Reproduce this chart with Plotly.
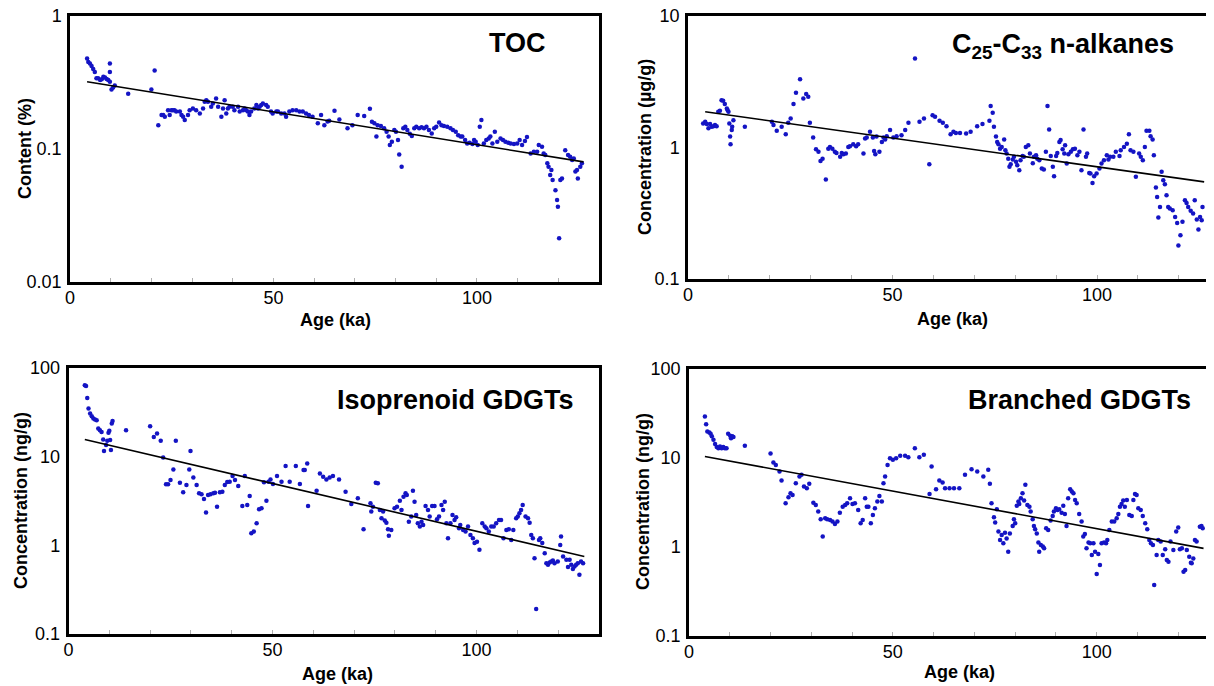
import plotly.graph_objects as go

# ---------------- DATA ----------------
# Panel 1: TOC content (%)
toc_age = [4.2, 4.5, 4.9, 5.3, 5.7, 6.1, 6.5, 6.9, 7.4, 7.8, 8.2, 8.6, 9.0, 9.4, 9.8, 9.8, 9.8, 10.2, 10.6, 11.0,
           14.3, 20.0, 20.8, 21.7, 22.5, 22.9, 23.3, 24.1, 24.5, 24.9, 25.3, 25.7, 26.1, 27.0, 27.4, 27.8, 28.2,
           29.0, 29.4, 30.2, 31.0, 31.9, 32.7, 33.1, 33.5, 33.9, 34.7, 35.1, 35.9, 36.4, 37.2, 37.6, 38.0, 38.4,
           38.8, 39.2, 40.0, 40.4, 41.3, 41.7, 42.5, 42.9, 43.3, 43.7, 44.1, 44.5, 45.3, 45.8, 46.2, 46.6, 47.0,
           47.4, 48.2, 48.6, 49.4, 49.8, 50.7, 51.1, 51.9, 52.7, 53.1, 53.9, 54.7, 55.6, 56.4, 57.2, 58.0, 58.7,
           59.6, 60.9, 61.7, 62.5, 63.3, 63.7, 65.0, 66.2, 68.2, 69.4, 70.7, 72.3, 73.7, 74.2, 74.8, 75.3, 75.6,
           76.4, 77.2, 77.8, 78.3, 78.6, 79.1, 79.7, 80.1, 80.6, 80.9, 81.5, 81.9, 82.4, 82.9, 83.5, 84.0, 84.6,
           85.1, 85.8, 86.4, 87.0, 87.6, 88.2, 88.9, 89.5, 90.0, 90.7, 91.3, 91.9, 92.7, 93.5, 94.1, 94.8, 95.4,
           96.0, 96.4, 97.1, 97.6, 98.2, 98.9, 99.3, 99.7, 100.2, 100.7, 101.1, 101.7, 102.3, 102.9, 103.3, 103.8,
           104.4, 105.0, 105.8, 106.4, 107.0, 107.7, 108.3, 109.1, 109.9, 110.5, 111.1, 111.8, 112.3, 113.2,
           114.0, 114.8, 115.2, 116.0, 116.4, 116.8, 117.3, 117.6, 118.0, 118.3, 118.6, 119.3, 119.7, 119.9,
           120.2, 120.5, 120.9, 121.7, 122.4, 122.9, 123.4, 123.8, 124.2, 124.6, 124.8, 125.4, 125.8]
toc_val = [0.48, 0.45, 0.44, 0.42, 0.40, 0.38, 0.34, 0.34, 0.33, 0.335, 0.35, 0.345, 0.336, 0.33, 0.44, 0.38, 0.32,
           0.28, 0.29, 0.30, 0.26, 0.28, 0.39, 0.151, 0.18, 0.18, 0.175, 0.196, 0.18, 0.196, 0.196, 0.196, 0.191,
           0.191, 0.18, 0.175, 0.165, 0.18, 0.196, 0.202, 0.196, 0.185, 0.202, 0.227, 0.233, 0.227, 0.208, 0.22,
           0.24, 0.208, 0.175, 0.202, 0.233, 0.185, 0.202, 0.208, 0.208, 0.196, 0.208, 0.191, 0.196, 0.202, 0.196,
           0.191, 0.18, 0.191, 0.202, 0.214, 0.202, 0.208, 0.214, 0.22, 0.214, 0.208, 0.191, 0.185, 0.191, 0.191,
           0.185, 0.185, 0.175, 0.191, 0.196, 0.196, 0.191, 0.191, 0.185, 0.18,
           0.175, 0.156, 0.18, 0.151, 0.161, 0.163, 0.194, 0.167, 0.143, 0.151, 0.18, 0.177, 0.201, 0.160, 0.156,
           0.124, 0.151, 0.149, 0.143, 0.135, 0.124, 0.107, 0.1135, 0.139, 0.135, 0.117, 0.091, 0.0736, 0.143,
           0.147, 0.139, 0.130, 0.125, 0.143, 0.147, 0.143, 0.146, 0.143, 0.147, 0.139, 0.131, 0.143, 0.147,
           0.158, 0.151, 0.149, 0.147, 0.143, 0.139, 0.135, 0.127, 0.124, 0.124, 0.117, 0.110, 0.1116, 0.109,
           0.117, 0.1135, 0.107, 0.147, 0.165, 0.110, 0.117, 0.120, 0.124, 0.110, 0.135, 0.1135, 0.120, 0.117,
           0.1135, 0.1116, 0.110, 0.109, 0.110, 0.117, 0.107, 0.115, 0.123, 0.0927, 0.0955, 0.0955, 0.107, 0.104,
           0.0927, 0.090, 0.078, 0.0736, 0.0638, 0.0695, 0.0585, 0.049, 0.0414, 0.0368, 0.0213, 0.0585, 0.060,
           0.098, 0.090, 0.0875, 0.0827, 0.085, 0.0676, 0.0695, 0.060, 0.0736, 0.078]
toc_fit_age = [4.2, 126.2]
toc_fit_val = [0.32, 0.080]

# Panel 2: C25-C33 n-alkanes (ug/g)
alk_age = [3.7, 4.2, 4.6, 5.0, 5.4, 5.8, 6.2, 6.6, 7.0, 7.4, 7.8, 8.2, 8.6, 9.0, 9.5, 9.7, 9.9, 10.1, 10.3, 10.4,
           10.7, 10.8, 11.1, 13.9, 20.5, 20.9, 21.7, 22.9, 23.9, 24.5, 25.1, 25.8, 26.4, 27.4, 28.2, 28.9, 29.4,
           29.8, 30.6, 31.3, 31.9, 32.4, 32.9, 33.7, 34.3, 34.7, 35.3, 35.9, 36.3, 37.2, 37.6, 38.0, 38.6, 39.2,
           39.6, 40.4, 41.1, 41.6, 42.9, 43.3, 43.7, 44.5, 45.2, 45.5, 45.8, 46.1, 46.8, 47.4, 47.8, 48.2, 48.6,
           49.4, 50.2, 51.0, 52.2, 53.1, 53.9,
           55.5, 56.6, 57.7, 59.0, 59.8, 60.4, 61.5, 62.3, 63.2, 64.2, 64.9, 65.5, 66.5, 68.0, 69.1, 70.7, 72.0,
           73.7, 74.0, 74.5, 74.8, 75.3, 75.6, 75.9, 76.3, 76.7, 77.3, 77.6, 77.9, 78.3, 78.6, 78.9, 79.4, 79.7,
           80.2, 80.5, 81.0, 81.3, 81.8, 82.1, 82.6, 83.2, 83.6, 84.3, 84.6, 85.1, 85.4, 85.9, 86.5, 87.0, 87.5,
           87.9, 88.3, 88.7, 89.2, 89.5, 90.0, 90.3, 90.8, 91.1, 91.6, 92.0, 92.2, 92.6, 93.0, 93.6, 94.1, 94.6,
           95.2, 95.7, 96.2, 96.7, 97.3, 97.6, 98.1, 98.4, 98.9, 99.3, 99.9, 100.6, 101.1, 101.7, 102.4, 102.8,
           103.2, 104.0, 104.6, 105.5, 105.8, 106.6, 107.3, 107.8, 108.2, 108.9, 109.5, 110.3, 110.7, 111.2,
           111.7, 112.1, 112.8, 113.1, 113.6, 113.9, 114.4, 114.7, 115.0, 115.4, 115.8, 116.2, 116.6, 117.0,
           117.4, 117.8, 118.5, 119.1, 119.6, 119.9, 120.4, 120.9, 121.5, 121.9, 122.3, 122.9, 123.5, 123.9,
           124.4, 124.8, 125.2, 125.6, 125.8]
alk_val = [1.52, 1.57, 1.51, 1.40, 1.51, 1.44, 1.45, 1.48, 1.45, 1.87, 1.90, 2.29, 2.27, 2.14, 1.98, 1.92, 1.87,
           1.52, 1.21, 1.06, 1.36, 1.44, 1.61, 1.44, 1.57, 1.48, 1.34, 1.44, 1.26, 1.54, 1.66, 2.14, 2.61, 3.30,
           2.36, 2.55, 2.43, 1.54, 1.19, 0.97, 0.93, 0.79, 0.82, 0.57, 0.98, 1.01, 0.98, 0.93, 0.91, 0.85, 0.91,
           0.89, 0.90, 1.01, 1.02, 1.06, 1.02, 1.06, 0.90, 1.17, 1.19, 1.32, 1.19, 0.94, 0.89, 1.21, 0.93, 1.10,
           1.19, 1.15, 1.22, 1.36, 1.19, 1.22, 1.24, 1.36, 1.54,
           4.76, 1.57, 1.66, 0.746, 1.76, 1.71, 1.60, 1.54, 1.45, 1.26, 1.32, 1.29, 1.29, 1.28, 1.32, 1.45, 1.51,
           1.60, 2.07, 1.84, 1.44, 1.21, 1.10, 1.06, 0.98, 1.01, 1.15, 0.955, 0.90, 0.82, 0.713, 0.746, 0.81,
           0.85, 0.78, 0.733, 0.672, 0.80, 0.86, 0.85, 1.01, 1.04, 0.90, 0.76, 0.85, 0.875, 0.82, 0.80, 0.692,
           0.68, 0.93, 2.07, 1.37, 0.86, 0.713, 0.605, 0.86, 0.91, 1.10, 1.14, 0.97, 0.90, 1.04, 0.755, 0.89, 0.93,
           0.97, 0.98, 0.875, 0.93, 0.672, 1.37, 0.85, 0.90, 0.641, 0.634, 0.538, 0.605, 0.634, 0.692, 0.755,
           0.80, 0.875, 0.81, 0.85, 0.85, 0.93, 0.86, 0.955, 1.01, 1.07, 1.26, 0.955, 0.93, 0.598, 0.90, 0.85,
           0.80, 1.01, 1.34, 1.34, 1.22, 1.15, 0.875, 0.496, 0.421, 0.293, 0.353, 0.653, 0.564, 0.526, 0.433,
           0.353, 0.343, 0.333, 0.296, 0.267, 0.18, 0.215, 0.272, 0.397, 0.379, 0.353, 0.330, 0.315, 0.397,
           0.283, 0.238, 0.296, 0.28, 0.353]
alk_fit_age = [4.2, 126.2]
alk_fit_val = [1.87, 0.548]

# Panel 3: Isoprenoid GDGTs (ng/g)
iso_age = [4.0, 4.3, 4.6, 4.9, 5.3, 5.7, 6.1, 6.5, 6.9, 7.3, 7.7, 8.1, 8.5, 8.7, 9.2, 9.5, 9.8, 10.0, 10.2, 10.4,
           10.6, 10.8, 14.1, 20.0, 20.9, 21.7, 22.6, 23.2, 23.9, 24.4, 25.0, 25.7, 26.3, 27.3, 28.1, 28.9, 29.6,
           29.9, 30.6, 31.4, 32.0, 32.6, 33.2, 33.7, 34.2, 34.8, 35.5, 35.9, 36.4, 37.1, 37.7, 38.3, 38.9, 39.5,
           40.2, 40.8, 41.6, 42.6, 43.2, 43.8, 44.4, 44.8, 45.4, 46.1, 46.7, 47.3, 47.9, 48.5, 49.0, 49.5, 50.1,
           51.1, 52.2, 53.2, 54.2, 55.7, 56.7, 57.6, 58.7,
           57.9, 58.5, 60.8, 61.6, 62.4, 63.2, 64.0, 64.8, 66.3, 67.9, 69.3, 70.9, 72.3, 74.0, 74.2, 74.6, 75.3,
           75.8, 76.3, 76.7, 77.1, 77.5, 77.9, 78.3, 78.5, 79.1, 79.9, 80.5, 81.2, 81.6, 82.1, 82.6, 82.9, 83.4,
           84.0, 84.4, 84.8, 85.2, 85.6, 86.1, 86.5, 86.9, 87.5, 88.1, 88.5, 89.1, 89.7, 90.3, 90.8, 91.4, 91.8,
           92.2, 92.6, 93.0, 93.6, 94.1, 94.6, 95.0, 95.7, 96.0, 96.7, 97.3, 97.9, 98.5, 99.1, 99.5, 100.1, 100.7,
           101.4, 102.0, 102.4, 103.0, 103.6, 104.2, 104.8, 105.5, 106.0, 106.6, 107.3, 107.9, 108.5, 109.0,
           109.7, 110.1, 110.5, 110.9, 111.3, 112.0, 112.6, 113.0, 113.4, 113.8, 114.2, 114.6, 115.3, 115.6,
           116.1, 116.7, 117.1, 117.5, 117.9, 118.3, 118.7, 119.1, 119.9, 120.5, 120.7, 121.2, 122.0, 122.4,
           122.8, 123.2, 123.6, 124.0, 124.4, 124.8, 125.2, 125.6, 126.1]
iso_val = [63.8, 62.8, 46.0, 34.9, 30.6, 28.6, 26.9, 26.2, 25.8, 20.8, 19.9, 19.0, 15.6, 11.6, 13.5, 15.1, 18.6,
           19.6, 15.4, 11.9, 23.7, 25.3, 19.9, 22.1, 16.7, 18.3, 15.1, 9.8, 4.87, 4.87, 5.45, 7.18, 15.1, 5.08,
           3.96, 4.79, 7.18, 11.6, 5.84, 4.79, 3.86, 3.76, 3.33, 2.34, 3.70, 3.76, 3.86, 3.93, 2.73, 3.96, 4.03,
           4.79, 5.18, 5.22, 6.04, 5.45, 4.67, 2.78, 6.04, 2.85, 3.60, 1.37, 1.43, 1.77, 2.55, 2.62, 5.13, 3.19,
           5.22, 5.54, 4.91, 6.04, 5.22, 7.83, 5.22, 7.83, 4.91, 7.06, 2.78,
           7.06, 8.39, 4.13, 6.47, 5.94, 5.54, 5.84, 6.04, 5.54, 4.03, 2.93, 3.39, 1.52, 2.98, 2.40, 2.73, 5.08,
           5.00, 2.51, 2.02, 2.40, 1.90, 1.80, 1.52, 1.28, 1.49, 2.62, 2.73, 3.19, 2.51, 3.54, 3.86, 3.70, 1.85,
           2.11, 4.13, 3.11, 2.20, 1.77, 1.63, 1.85, 1.70, 2.78, 2.51, 2.11, 2.78, 2.78, 1.97, 2.11, 2.85, 2.51,
           3.11, 1.77, 1.20, 1.77, 2.20, 1.93, 2.07, 1.56, 1.70, 1.49, 1.43, 1.63, 1.31, 1.20, 1.06, 1.10, 0.889,
           1.77, 1.63, 1.56, 1.43, 1.63, 1.63, 1.77, 1.93, 1.93, 1.20, 1.49, 1.52, 1.15, 1.49, 2.02, 2.11, 2.30,
           2.51, 2.85, 2.11, 2.02, 1.80, 1.31, 1.20, 0.716, 0.191, 1.15, 1.20, 1.06, 0.816, 0.630, 0.603, 0.640,
           0.658, 0.675, 0.630, 0.658, 1.01, 1.26, 0.748, 0.687, 0.568, 0.687, 0.603, 0.540, 0.578, 0.603, 0.630,
           0.466, 0.658, 0.630]
iso_fit_age = [4.0, 126.4]
iso_fit_val = [15.6, 0.748]

# Panel 4: Branched GDGTs (ng/g)
br_age = [3.9, 4.2, 4.5, 5.0, 5.3, 5.6, 6.0, 6.4, 6.8, 7.2, 7.6, 8.0, 8.4, 8.8, 9.2, 9.6, 10.1, 10.3, 10.6, 10.9,
          13.7, 20.0, 20.7, 21.3, 22.2, 22.7, 23.7, 24.4, 24.9, 25.4, 26.2, 27.1, 27.6, 28.2, 28.9, 29.5, 30.5,
          31.1, 31.7, 32.3, 32.8, 33.4, 33.9, 34.6, 35.2, 35.8, 36.4, 37.0, 37.7, 38.3, 38.8, 39.5, 40.1, 40.7,
          41.5, 42.1, 42.6, 43.2, 43.6, 44.0, 44.6, 45.1, 45.6, 46.2, 46.7, 47.3, 47.7, 48.1, 48.7, 49.3, 50.0,
          50.8, 51.8, 53.0, 53.8,
          55.4, 56.5, 57.6, 59.0, 59.5, 60.6, 61.4, 62.2, 62.8, 63.9, 65.0, 66.3, 67.7, 69.3, 70.7, 72.2, 73.4,
          73.8, 74.2, 74.8, 75.1, 75.5, 75.9, 76.3, 76.7, 77.1, 77.5, 77.9, 78.3, 78.7, 79.4, 79.7, 80.0, 80.4,
          80.8, 81.0, 81.4, 81.8, 82.2, 82.5, 83.0, 83.5, 83.8, 84.3, 84.6, 84.9, 85.3, 85.7, 85.9, 86.3, 86.8,
          87.1, 87.6, 88.1, 88.7, 89.2, 89.5, 90.0, 90.4, 90.8, 91.4, 91.8, 92.2, 92.6, 93.0, 93.5, 93.9, 94.3,
          94.7, 95.1, 95.7, 96.3, 96.7, 97.1, 97.5, 98.0, 98.4, 98.8, 99.2, 99.6, 100.0, 100.4, 100.8, 101.2,
          101.8, 102.3, 102.6, 103.1, 103.7, 104.3, 104.9, 105.3, 105.7, 106.1, 106.5, 106.9, 107.4, 108.0,
          108.6, 109.0, 109.4, 109.8, 110.2, 110.8, 111.3, 111.9, 112.4, 112.9, 113.3, 113.8, 114.1, 114.7,
          115.1, 115.7, 116.2, 116.8, 117.2, 117.6, 118.1, 118.8, 119.5, 120.0, 120.4, 120.9, 121.3, 121.7,
          122.1, 122.7, 123.1, 123.3, 123.7, 124.1, 124.5, 125.3, 125.7, 126.0]
br_val = [29.3, 24.0, 19.9, 19.4, 18.7, 17.5, 16.0, 14.4, 13.3, 12.9, 13.5, 12.9, 13.3, 12.9, 12.9, 18.7, 17.8,
          16.7, 17.5, 17.2, 13.7, 11.2, 8.89, 8.37, 7.05, 5.58, 3.10, 3.62, 4.02, 3.85, 5.21, 6.19, 6.47, 4.78,
          4.58, 5.12, 3.15, 2.97, 2.50, 2.05, 1.31, 2.10, 2.05, 2.01, 1.93, 1.81, 1.93, 2.43, 2.84, 2.97, 3.10,
          3.53, 3.05, 3.10, 2.61, 1.85, 2.01, 3.53, 2.84, 2.84, 1.85, 2.29, 2.72, 3.24, 3.75, 3.24, 5.21, 6.19,
          8.37, 9.95, 9.53, 9.95, 10.6, 10.6, 10.2,
          12.9, 10.2, 10.9, 3.95, 8.02, 4.46, 5.58, 5.30, 4.58, 4.58, 4.58, 4.58, 6.47, 7.48, 7.05, 6.19, 7.36,
          5.12, 3.10, 2.16, 1.88, 2.65, 1.49, 1.20, 1.36, 1.10, 1.45, 1.25, 0.886, 1.42, 1.72, 2.05, 1.85, 2.90,
          3.24, 3.05, 3.53, 4.02, 3.32, 4.99, 2.97, 2.84, 2.50, 2.05, 1.72, 1.58, 1.42, 1.12, 0.886, 1.05, 1.01,
          0.967, 1.62, 1.55, 1.98, 2.23, 2.50, 2.72, 2.61, 2.65, 2.43, 2.90, 2.35, 1.72, 3.53, 4.46, 4.20, 4.02,
          3.38, 3.10, 2.35, 1.93, 1.31, 1.40, 0.967, 1.12, 1.10, 0.813, 1.10, 0.886, 0.496, 0.834, 0.627, 1.10,
          1.12, 1.10, 1.20, 1.55, 1.93, 1.93, 2.10, 2.35, 2.84, 3.05, 3.32, 2.84, 3.38, 2.29, 2.23, 3.38, 3.95,
          3.85, 2.72, 2.61, 2.23, 1.85, 1.58, 1.20, 1.10, 1.05, 0.373, 0.813, 1.20, 1.15, 0.813, 0.942, 0.714,
          0.684, 1.15, 0.925, 1.49, 1.66, 0.942, 0.967, 0.527, 0.551, 0.925, 0.778, 0.667, 0.655, 0.745, 1.20,
          1.15, 1.69, 1.72, 1.62]
br_fit_age = [3.9, 126.2]
br_fit_val = [10.4, 0.966]

# Axis labels and ticks
x_tickvals = [0, 50, 100]
x_ticktext = ["0", "50", "100"]
y1_ticks = [0.01, 0.1, 1]
y1_text = ["0.01", "0.1", "1"]
y2_ticks = [0.1, 1, 10]
y2_text = ["0.1", "1", "10"]
y34_ticks = [0.1, 1, 10, 100]
y34_text = ["0.1", "1", "10", "100"]

titles = ["TOC", "C<sub>25</sub>-C<sub>33</sub> n-alkanes", "Isoprenoid GDGTs", "Branched GDGTs"]
ylabels = ["Content (%)", "Concentration (µg/g)", "Concentration (ng/g)", "Concentration (ng/g)"]
xlabel = "Age (ka)"

# ---------------- FIGURE ----------------
# The page shows the figure with the browser's 8 px body margin, so the figure is
# 8 px smaller than the window and every screen position is shifted by -8 px.
OFF = 8
W, H = 1214 - OFF, 686 - OFF
FONT = "Liberation Sans, Arial, Helvetica, sans-serif"
DOT = "#1414c4"

fig = go.Figure()

panels = [
    (toc_age, toc_val, toc_fit_age, toc_fit_val, "x", "y"),
    (alk_age, alk_val, alk_fit_age, alk_fit_val, "x2", "y2"),
    (iso_age, iso_val, iso_fit_age, iso_fit_val, "x3", "y3"),
    (br_age, br_val, br_fit_age, br_fit_val, "x4", "y4"),
]
for ax, av, fx, fv, xa, ya in panels:
    fig.add_trace(go.Scatter(x=ax, y=av, mode="markers", xaxis=xa, yaxis=ya,
                             marker=dict(color=DOT, size=4.5, line=dict(width=0)), showlegend=False))
    fig.add_trace(go.Scatter(x=fx, y=fv, mode="lines", xaxis=xa, yaxis=ya,
                             line=dict(color="black", width=1.6), showlegend=False))

# screen pixel boxes: (left, right, top, bottom)
boxes = [(70, 599, 16, 282), (688, 1214, 16, 279), (68.5, 599, 368, 634), (689, 1214, 369, 636)]
xranges = [[0, 130], [0, (1214 - 688) / 4.09], [0, 130], [0, (1214 - 689) / 4.077]]
yranges = [[-2, 0], [-1, 1], [-1, 2], [-1, 2]]
yticks = [(y1_ticks, y1_text), (y2_ticks, y2_text), (y34_ticks, y34_text), (y34_ticks, y34_text)]
ymirror = [True, False, True, False]

layout = dict(width=W, height=H, margin=dict(l=0, r=0, t=0, b=0, pad=0, autoexpand=False),
              paper_bgcolor="white", plot_bgcolor="white", showlegend=False,
              font=dict(family=FONT, color="black", size=18))

for i in range(4):
    l, r, t, b = [v - OFF for v in boxes[i]]
    sfx = "" if i == 0 else str(i + 1)
    layout["xaxis" + sfx] = dict(
        domain=[l / W, min(r / W, 1.0)], range=xranges[i], anchor="y" + sfx, automargin=False,
        showline=True, linecolor="black", linewidth=2.5, mirror=True,
        showgrid=False, zeroline=False,
        tickvals=x_tickvals, ticktext=x_ticktext, ticks="inside", ticklen=4,
        tickcolor="#b0b0b0", tickwidth=1, ticklabelstandoff=-2, ticklabeloverflow="allow",
        tickfont=dict(size=18, family=FONT, color="black"),
        minor=dict(dtick=10, ticks="inside", ticklen=4, tickcolor="#b0b0b0", tickwidth=1),
    )
    layout["yaxis" + sfx] = dict(
        domain=[1 - b / H, 1 - t / H], type="log", range=yranges[i], anchor="x" + sfx, automargin=False,
        showline=True, linecolor="black", linewidth=2.5, mirror=ymirror[i],
        showgrid=False, zeroline=False,
        tickvals=yticks[i][0], ticktext=yticks[i][1], ticks="",
        ticklabelstandoff=2, ticklabeloverflow="allow",
        tickfont=dict(size=18, family=FONT, color="black"),
    )

fig.update_layout(**layout)

# axis titles and panel titles as annotations (screen pixel positions)
def px(xp, yp):
    return (xp - OFF) / W, 1 - (yp - OFF) / H

xlab_pos = [(335, 320), (952, 319), (338, 674), (959, 672)]
ylab_pos = [(25, 149), (645, 147), (21, 501), (643, 502)]
title_pos = [(517, 43), (1063, 46), (456, 400), (1079, 400)]

ann = []
for i in range(4):
    x, y = px(*xlab_pos[i])
    ann.append(dict(x=x, y=y, xref="paper", yref="paper", text="<b>%s</b>" % xlabel, showarrow=False,
                    font=dict(size=18, family=FONT, color="black"), xanchor="center", yanchor="middle"))
    x, y = px(*ylab_pos[i])
    ann.append(dict(x=x, y=y, xref="paper", yref="paper", text="<b>%s</b>" % ylabels[i], showarrow=False,
                    textangle=-90, font=dict(size=18, family=FONT, color="black"),
                    xanchor="center", yanchor="middle"))
    x, y = px(*title_pos[i])
    ann.append(dict(x=x, y=y, xref="paper", yref="paper", text="<b>%s</b>" % titles[i], showarrow=False,
                    font=dict(size=27, family=FONT, color="black"), xanchor="center", yanchor="middle"))
fig.update_layout(annotations=ann)

fig.write_html("out.html")
